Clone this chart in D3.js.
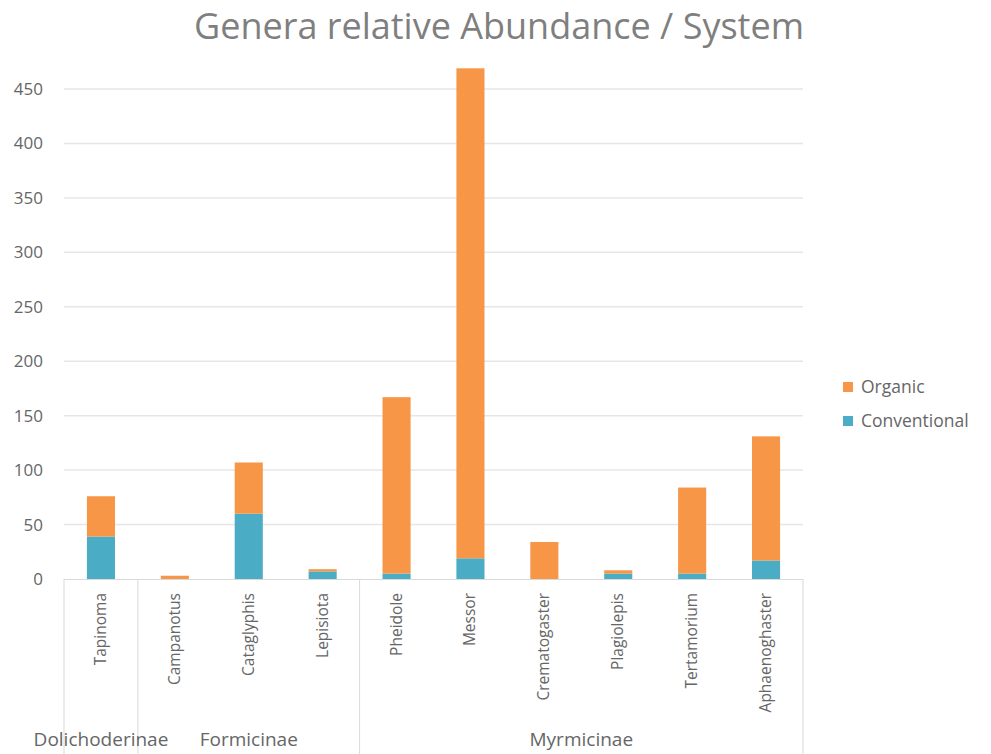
<!DOCTYPE html>
<html>
<head>
<meta charset="utf-8">
<script src="https://cdn.jsdelivr.net/npm/d3@7"></script>
<style>
  body { margin: 0; background: #fff; }
  text { font-family: "Open Sans", "Noto Sans", sans-serif; }
</style>
</head>
<body>
<div id="chart"></div>
<script>
// genera and their subfamily
const genera = ["Tapinoma", "Campanotus", "Cataglyphis", "Lepisiota", "Pheidole", "Messor", "Crematogaster", "Plagiolepis", "Tertamorium", "Aphaenoghaster"];
const subfamily = ["Dolichoderinae", "Formicinae", "Formicinae", "Formicinae", "Myrmicinae", "Myrmicinae", "Myrmicinae", "Myrmicinae", "Myrmicinae", "Myrmicinae"];
const conventional = [39, 0, 60, 7, 5, 19, 0, 5, 5, 17];
const organic = [37, 3, 47, 2, 162, 450, 34, 3, 79, 114];
const yTicks = [0, 50, 100, 150, 200, 250, 300, 350, 400, 450];
const seriesNames = ["Organic", "Conventional"];

const W = 991, H = 754;
const margin = { top: 89, left: 64, right: 188, bottom: 175 };
const width = W - margin.left - margin.right,
      height = H - margin.top - margin.bottom;

const svg = d3.select("#chart").append("svg")
    .attr("width", W)
    .attr("height", H);

svg.append("text")
    .attr("x", 499).attr("y", 39)
    .attr("text-anchor", "middle")
    .attr("font-size", 36)
    .attr("fill", "#7f7f7f")
    .text("Genera relative Abundance / System");

const g = svg.append("g").attr("transform", `translate(${margin.left},${margin.top})`);

const x = d3.scaleBand().domain(genera).range([0, width]).paddingInner(0.62).paddingOuter(0.31);
const y = d3.scaleLinear().domain([0, 450]).range([height, 0]);

// gridlines
g.append("g").selectAll("line")
    .data(yTicks.slice(1))
    .join("line")
    .attr("x1", 0).attr("x2", width)
    .attr("y1", d => y(d)).attr("y2", d => y(d))
    .attr("stroke", "#e6e6e6").attr("stroke-width", 1.5);

// y axis labels
const yAxis = g.append("g")
    .call(d3.axisLeft(y).tickValues(yTicks).tickSize(0).tickPadding(21));
yAxis.select(".domain").remove();
yAxis.selectAll("text").attr("font-size", 17).attr("fill", "#666").attr("font-family", "Open Sans, sans-serif");

// stacked bars
const data = genera.map((name, i) => ({ name, Conventional: conventional[i], Organic: organic[i] }));
const stacked = d3.stack().keys(["Conventional", "Organic"])(data);
const color = d3.scaleOrdinal().domain(seriesNames).range(["#f79646", "#4bacc6"]);

g.append("g").selectAll("g")
    .data(stacked)
    .join("g")
    .attr("fill", d => color(d.key))
    .selectAll("rect")
    .data(d => d)
    .join("rect")
    .attr("x", d => x(d.data.name))
    .attr("y", d => y(d[1]))
    .attr("height", d => y(d[0]) - y(d[1]))
    .attr("width", x.bandwidth());

// category axis: baseline + group separators
g.append("line")
    .attr("x1", 0).attr("x2", width)
    .attr("y1", height + 0.5).attr("y2", height + 0.5)
    .attr("stroke", "#d9d9d9");

const step = x.step();
const groups = [];
subfamily.forEach((s, i) => {
    if (!groups.length || groups[groups.length - 1].name !== s) groups.push({ name: s, start: i, end: i });
    else groups[groups.length - 1].end = i;
});
const bounds = [0].concat(groups.map(d => (d.end + 1)));
g.append("g").selectAll("line")
    .data(bounds)
    .join("line")
    .attr("x1", d => d * step).attr("x2", d => d * step)
    .attr("y1", height).attr("y2", H - margin.top)
    .attr("stroke", "#d9d9d9");

// genus labels
g.append("g").selectAll("text")
    .data(genera)
    .join("text")
    .attr("transform", d => `translate(${x(d) + x.bandwidth() / 2 + 5},${height + 14}) rotate(-90)`)
    .attr("text-anchor", "end")
    .attr("font-size", 15.5)
    .attr("fill", "#666")
    .text(d => d);

// subfamily labels
g.append("g").selectAll("text")
    .data(groups)
    .join("text")
    .attr("x", d => (d.start + d.end + 1) / 2 * step)
    .attr("y", 657)
    .attr("text-anchor", "middle")
    .attr("font-size", 19)
    .attr("fill", "#666")
    .text(d => d.name);

// legend
const legend = svg.append("g").attr("transform", "translate(843,380)")
    .selectAll("g")
    .data(seriesNames)
    .join("g")
    .attr("transform", (d, i) => `translate(0,${i * 34})`);
legend.append("rect")
    .attr("width", 10).attr("height", 10)
    .attr("y", 2)
    .attr("fill", d => color(d));
legend.append("text")
    .attr("x", 18).attr("y", 13)
    .attr("font-size", 17.5)
    .attr("fill", "#666")
    .text(d => d);
</script>
</body>
</html>
